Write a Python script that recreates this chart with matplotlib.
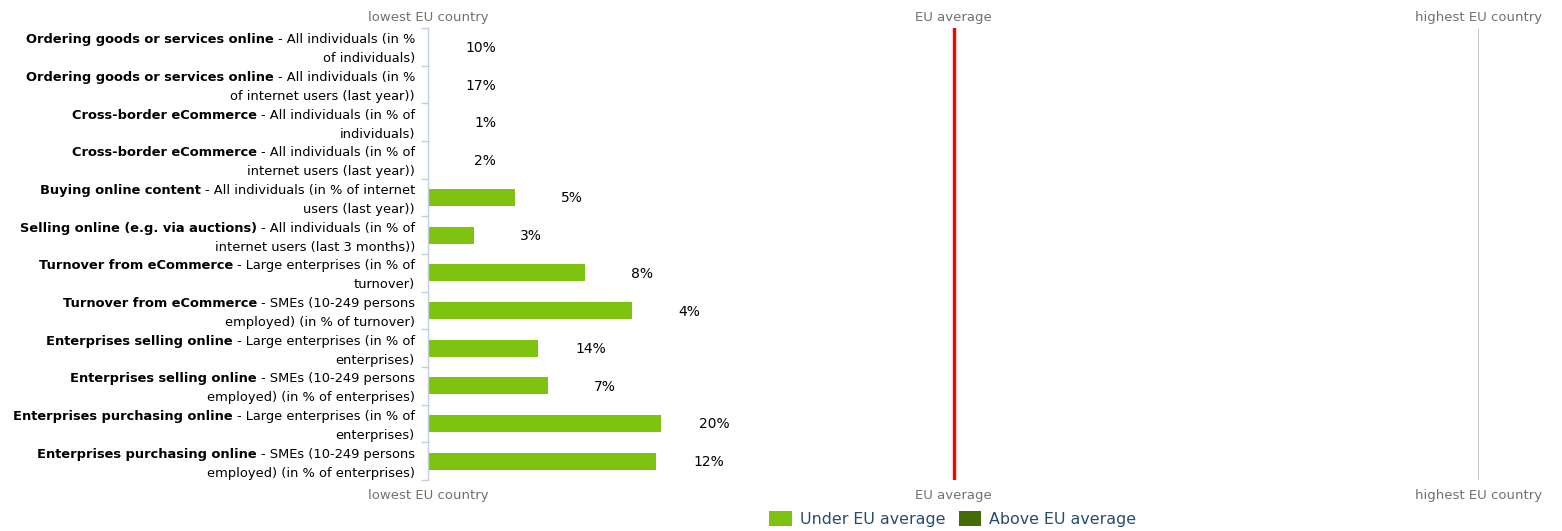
import matplotlib
matplotlib.use("Agg")
import matplotlib.pyplot as plt
import matplotlib.transforms as mtransforms
from matplotlib.patches import Patch

# Indicator names: bold title, rest of first line, second line
titles = [
    "Ordering goods or services online",
    "Ordering goods or services online",
    "Cross-border eCommerce",
    "Cross-border eCommerce",
    "Buying online content",
    "Selling online (e.g. via auctions)",
    "Turnover from eCommerce",
    "Turnover from eCommerce",
    "Enterprises selling online",
    "Enterprises selling online",
    "Enterprises purchasing online",
    "Enterprises purchasing online",
]
subtitles_line1 = [
    "- All individuals (in %",
    "- All individuals (in %",
    "- All individuals (in % of",
    "- All individuals (in % of",
    "- All individuals (in % of internet",
    "- All individuals (in % of",
    "- Large enterprises (in % of",
    "- SMEs (10-249 persons",
    "- Large enterprises (in % of",
    "- SMEs (10-249 persons",
    "- Large enterprises (in % of",
    "- SMEs (10-249 persons",
]
subtitles_line2 = [
    "of individuals)",
    "of internet users (last year))",
    "individuals)",
    "internet users (last year))",
    "users (last year))",
    "internet users (last 3 months))",
    "turnover)",
    "employed) (in % of turnover)",
    "enterprises)",
    "employed) (in % of enterprises)",
    "enterprises)",
    "employed) (in % of enterprises)",
]

# Country value of each indicator (%)
values = [10, 17, 1, 2, 5, 3, 8, 4, 14, 7, 20, 12]
# Position between lowest (0) and highest (1) EU country; EU average = 0.5
relative = [0.0, 0.0, 0.0, 0.0, 0.083, 0.044, 0.149, 0.194, 0.105, 0.114, 0.222, 0.217]

eu_average = 0.5
under_color = "#7dc30f"
above_color = "#466a05"
axis_color = "#c0d0e0"
grey_text = "#707070"

W, H = 1562, 531
fig = plt.figure(figsize=(W / 100, H / 100), dpi=100)
ax_left, ax_right, ax_top, ax_bottom = 428, 1479, 28, 480
ax = fig.add_axes([ax_left / W, (H - ax_bottom) / H,
                   (ax_right - ax_left) / W, (ax_bottom - ax_top) / H])

n = len(values)
ypos = [i + 0.5 for i in range(n)]
colors = [under_color if r < eu_average else above_color for r in relative]
ax.barh(ypos, relative, height=0.45, color=colors, edgecolor="none", zorder=2)

ax.set_xlim(0, 1)
ax.set_ylim(n, 0)

# Reference lines
ax.axvline(eu_average, color="#ff0000", lw=2.4, zorder=3)
ax.axvline(1.0, color="#c0c0c0", lw=1.2, zorder=1)

for s in ["top", "right", "bottom"]:
    ax.spines[s].set_visible(False)
ax.spines["left"].set_color(axis_color)
ax.spines["left"].set_linewidth(1.0)
ax.set_yticks(range(n + 1))
ax.set_yticklabels([])
ax.tick_params(axis="y", length=5, color=axis_color, width=1.0)
ax.set_xticks([])

# Value labels right-aligned after the bar end
for y, r, v in zip(ypos, relative, values):
    tr = mtransforms.offset_copy(ax.transData, fig=fig, x=68, y=-1, units="dots")
    ax.text(r, y, f"{v}%", transform=tr, ha="right", va="center",
            fontsize=10, color="#000000")

# Scale labels above and below
xtrans = mtransforms.blended_transform_factory(ax.transData, ax.transAxes)
for xv, lab in [(0, "lowest EU country"), (eu_average, "EU average"), (1, "highest EU country")]:
    ttop = mtransforms.offset_copy(xtrans, fig=fig, x=0, y=11, units="dots")
    tbot = mtransforms.offset_copy(xtrans, fig=fig, x=0, y=-15, units="dots")
    ax.text(xv, 1, lab, transform=ttop, ha="center", va="center",
            fontsize=9.5, color=grey_text)
    ax.text(xv, 0, lab, transform=tbot, ha="center", va="center",
            fontsize=9.5, color=grey_text)

# Category labels: bold title followed by regular description
label_x = 415
label_fs = 9.4
fig.canvas.draw()
renderer = fig.canvas.get_renderer()
ident = mtransforms.IdentityTransform()
ydisp = mtransforms.blended_transform_factory(ident, ax.transData)
for y, t, s1, s2 in zip(ypos, titles, subtitles_line1, subtitles_line2):
    tr1 = mtransforms.offset_copy(ydisp, fig=fig, x=0, y=7, units="dots")
    tr2 = mtransforms.offset_copy(ydisp, fig=fig, x=0, y=-12, units="dots")
    reg = fig.text(label_x, y, s1, transform=tr1, ha="right", va="center",
                   fontsize=label_fs, color="#000000")
    fig.text(label_x, y, s2, transform=tr2, ha="right", va="center",
             fontsize=label_fs, color="#000000")
    bb = reg.get_window_extent(renderer=renderer)
    fig.text(bb.x0 - 4, y, t, transform=tr1, ha="right", va="center",
             fontsize=label_fs, fontweight="bold", color="#000000")

handles = [Patch(facecolor=under_color, edgecolor="none", label="Under EU average"),
           Patch(facecolor=above_color, edgecolor="none", label="Above EU average")]
fig.legend(handles=handles, loc="center", bbox_to_anchor=(953 / W, 12 / H),
           ncol=2, frameon=False, fontsize=11.4, labelcolor="#274b6d",
           handlelength=1.4, handleheight=1.1, handletextpad=0.55,
           columnspacing=0.8)

fig.savefig("out.png", dpi=100)
